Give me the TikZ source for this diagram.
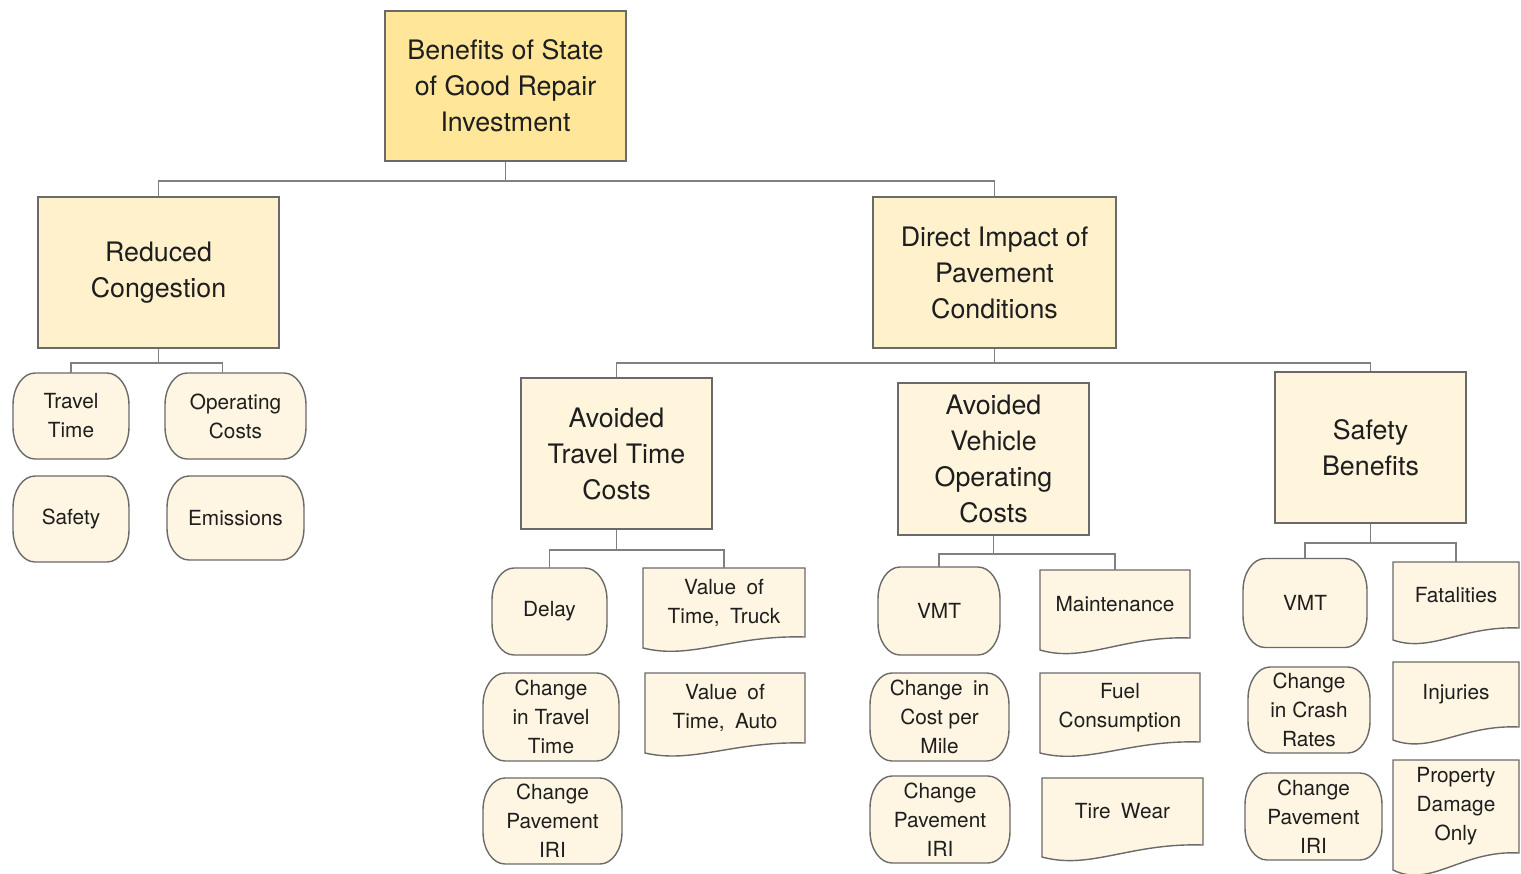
\documentclass[tikz,border=0pt]{standalone}
\usepackage{fontspec}
\setmainfont{TeX Gyre Heros}
\usetikzlibrary{calc}

\definecolor{rootfill}{HTML}{FFE699}
\definecolor{mainfill}{HTML}{FFF1CC}
\definecolor{subfill}{HTML}{FFF5DD}
\definecolor{leaffill}{HTML}{FEF6E2}
\definecolor{frame}{HTML}{6A6A6A}
\definecolor{wire}{HTML}{808080}
\definecolor{ink}{HTML}{1E1E1E}

\tikzset{
  bigtext/.style={font=\fontsize{26.8}{36}\selectfont, text=ink, align=center, inner sep=0pt},
  smalltext/.style={font=\fontsize{20.8}{29}\selectfont, text=ink, align=center, inner sep=0pt},
  rectbox/.style={bigtext, draw=frame, line width=1.5pt, fill=#1},
  leafframe/.style={draw=frame, line width=1.4pt, fill=leaffill},
  conn/.style={draw=wire, line width=1.5pt},
}

% rounded process box: name, centre x, centre y (downwards), width, height, text
\newcommand\termbox[6]{%
  \path[leafframe]
    ({#2-#4/2+22},{-#3+#5/2}) -- ({#2+#4/2-22},{-#3+#5/2})
    arc[start angle=90, end angle=0, x radius=22, y radius=32]
    -- ({#2+#4/2},{-#3-#5/2+32})
    arc[start angle=0, end angle=-90, x radius=22, y radius=32]
    -- ({#2-#4/2+22},{-#3-#5/2})
    arc[start angle=270, end angle=180, x radius=22, y radius=32]
    -- ({#2-#4/2},{-#3+#5/2-32})
    arc[start angle=180, end angle=90, x radius=22, y radius=32]
    -- cycle;
  \node[smalltext, minimum width=#4, minimum height=#5] (#1) at (#2,-#3) {#6};
}

% document box with wavy lower edge: name, left, right, top, left bottom, right bottom, text
\newcommand\docbox[7]{%
  \path[leafframe]
    (#2,-#4) -- (#3,-#4) -- (#3,-#6)
    .. controls ({#2+0.55*(#3-#2)},{-#6+0.2*(#5-#6)})
            and ({#2+0.3*(#3-#2)},{-#5-1.1*(#5-#6)}) ..
    (#2,-#5) -- cycle;
  \node[smalltext, minimum width={#3-#2}, minimum height={#6-#4}]
    (#1) at ({(#2+#3)/2},{-(#4+#6)/2}) {#7};
}

\begin{document}
\begin{tikzpicture}[x=1pt, y=1pt]
\useasboundingbox (0,0) rectangle (1521,-873);

% top level
\node[rectbox=rootfill, minimum width=241, minimum height=150] (root) at (505.5,-86)
  {Benefits of State\\of Good Repair\\Investment};

% second level
\node[rectbox=mainfill, minimum width=241, minimum height=151] (rc) at (158.5,-272.5)
  {Reduced\\Congestion};
\node[rectbox=mainfill, minimum width=243, minimum height=151] (di) at (994.5,-272.5)
  {Direct Impact of\\Pavement\\Conditions};

% third level
\node[rectbox=subfill, minimum width=191, minimum height=151] (attc) at (616.5,-453.5)
  {Avoided\\Travel Time\\Costs};
\node[rectbox=subfill, minimum width=191, minimum height=152] (avoc) at (993.5,-459)
  {Avoided\\Vehicle\\Operating\\Costs};
\node[rectbox=subfill, minimum width=191, minimum height=151] (sb) at (1370.5,-447.5)
  {Safety\\Benefits};

% congestion items
\termbox{tt}{71}{416}{116}{86}{Travel\\Time}
\termbox{oc}{235.5}{416}{141}{86}{Operating\\Costs}
\termbox{saf}{71}{519}{116}{86}{Safety}
\termbox{emi}{235.5}{518}{137}{84}{Emissions}

% travel time items
\termbox{delay}{549.5}{611.5}{115}{87}{Delay}
\termbox{ctt}{551}{717}{136}{88}{Change\\in Travel\\Time}
\termbox{cpa}{552.5}{821}{139}{86}{Change\\Pavement\\IRI}
\docbox{vtt}{643}{805}{568}{648}{637}{Value\enspace of\\Time,\enspace Truck}
\docbox{vta}{645}{805}{673}{753}{743}{Value\enspace of\\Time,\enspace Auto}

% vehicle operating items
\termbox{vmta}{939}{611}{122}{88}{VMT}
\termbox{ccpm}{939.5}{717}{139}{88}{Change\enspace in\\Cost per\\Mile}
\termbox{cpb}{940}{819.5}{140}{87}{Change\\Pavement\\IRI}
\docbox{maint}{1040}{1190}{570}{650}{638}{Maintenance}
\docbox{fuel}{1040}{1200}{673}{753}{742}{Fuel\\Consumption}
\docbox{tire}{1042}{1203}{778}{857}{845}{Tire\enspace Wear}

% safety items
\termbox{vmtb}{1305}{603}{124}{89}{VMT}
\termbox{ccr}{1309}{710}{122}{86}{Change\\in Crash\\Rates}
\termbox{cpc}{1313.5}{816.5}{137}{87}{Change\\Pavement\\IRI}
\docbox{fatal}{1393}{1519}{562}{640}{628}{Fatalities}
\docbox{inj}{1393}{1519}{662}{740}{727}{Injuries}
\docbox{pdo}{1393}{1519}{760}{870}{853}{Property\\Damage\\Only}

% connectors
\draw[conn] (root.south) -- ++(0,-19) coordinate (bus0);
\draw[conn] (rc.north) |- (bus0) -| (di.north);

\draw[conn] (rc.south) -- ++(0,-14) coordinate (bus1);
\draw[conn] (tt.north) |- (bus1) -| ($(oc.north)+(-13,0)$);

\draw[conn] (di.south) -- ++(0,-14) coordinate (bus2);
\draw[conn] (attc.north) |- (bus2) -| (sb.north);

\draw[conn] (attc.south) -- ++(0,-20) coordinate (bus3);
\draw[conn] (delay.north) |- (bus3) -| (vtt.north);

\draw[conn] (avoc.south) -- ++(0,-18) coordinate (bus4);
\draw[conn] (vmta.north) |- (bus4) -| (maint.north);

\draw[conn] (sb.south) -- ++(0,-19) coordinate (bus5);
\draw[conn] (vmtb.north) |- (bus5) -| (fatal.north);
\end{tikzpicture}
\end{document}
